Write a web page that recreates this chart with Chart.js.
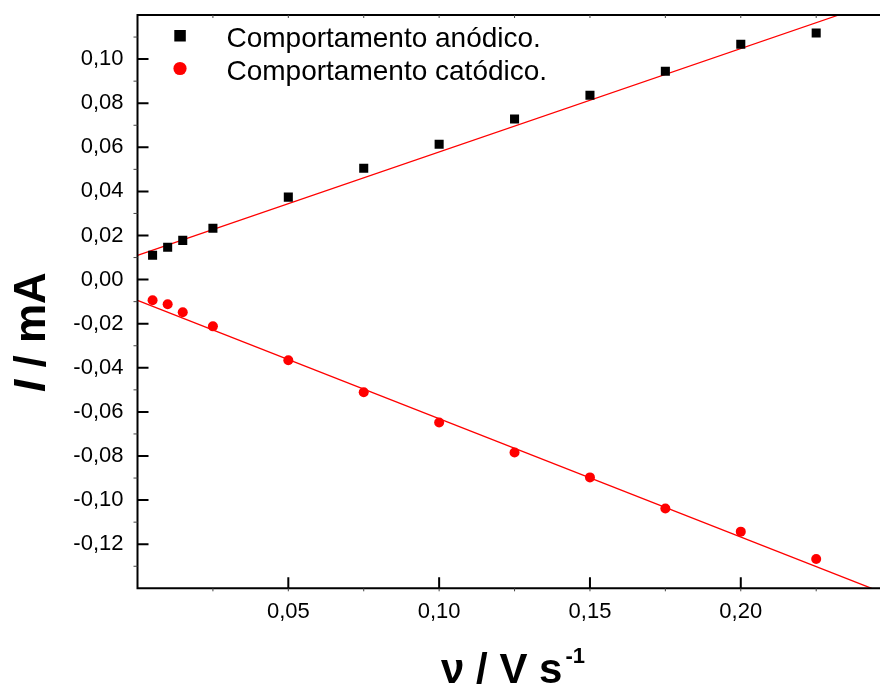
<!DOCTYPE html>
<html>
<head>
<meta charset="utf-8">
<script src="https://cdn.jsdelivr.net/npm/chart.js@4/dist/chart.umd.min.js"></script>
<style>
  html, body { margin: 0; padding: 0; overflow: hidden; background: #fff; }
</style>
</head>
<body>
<canvas id="chart" width="898" height="691"></canvas>
<script>
// scan rate (V/s) and peak currents (mA)
const scanRates = [0.005, 0.01, 0.015, 0.025, 0.05, 0.075, 0.1, 0.125, 0.15, 0.175, 0.2, 0.225];
const anodicCurrent = [0.011, 0.0147, 0.0178, 0.0233, 0.0374, 0.0505, 0.0614, 0.0728, 0.0836, 0.0945, 0.1067, 0.1118];
const cathodicCurrent = [-0.0094, -0.0112, -0.0148, -0.0212, -0.0366, -0.0511, -0.0648, -0.0784, -0.0897, -0.1038, -0.1143, -0.1267];

// fitted lines, end points
const anodicFitX = [0, 0.2325];
const anodicFitY = [0.011, 0.12];
const cathodicFitX = [0, 0.2434];
const cathodicFitY = [-0.0094, -0.14];

const xTickValues = [0.05, 0.10, 0.15, 0.20];
const xMinorValues = [0.025, 0.075, 0.125, 0.175, 0.225];
const yTickValues = [-0.12, -0.10, -0.08, -0.06, -0.04, -0.02, 0, 0.02, 0.04, 0.06, 0.08, 0.10];
const yMinorValues = [-0.13, -0.11, -0.09, -0.07, -0.05, -0.03, -0.01, 0.01, 0.03, 0.05, 0.07, 0.09, 0.11];

const FONT = "'Liberation Sans', Arial, sans-serif";
const fmt = v => v.toFixed(2).replace('.', ',');
const pairs = (xs, ys) => xs.map((x, i) => ({ x: x, y: ys[i] }));

const frame = {
    id: 'frame',
    afterDraw(chart) {
        const ctx = chart.ctx;
        const a = chart.chartArea;
        const xs = chart.scales.x, ys = chart.scales.y;
        ctx.save();
        ctx.strokeStyle = '#000';
        ctx.lineWidth = 2;
        ctx.beginPath();
        ctx.moveTo(a.left, a.top); ctx.lineTo(a.left, a.bottom);
        ctx.moveTo(a.left - 1, a.bottom); ctx.lineTo(a.right, a.bottom);
        ctx.moveTo(a.left - 1, a.top); ctx.lineTo(a.right, a.top);
        // major ticks, pointing inward
        yTickValues.forEach(v => {
            const y = ys.getPixelForValue(v);
            ctx.moveTo(a.left, y); ctx.lineTo(a.left + 11, y);
        });
        xTickValues.forEach(v => {
            const x = xs.getPixelForValue(v);
            ctx.moveTo(x, a.bottom); ctx.lineTo(x, a.bottom - 11);
        });
        ctx.stroke();

        // minor ticks, small and outside
        ctx.lineWidth = 1;
        ctx.strokeStyle = '#444';
        ctx.beginPath();
        yMinorValues.forEach(v => {
            const y = ys.getPixelForValue(v);
            ctx.moveTo(a.left - 4, y); ctx.lineTo(a.left, y);
        });
        xMinorValues.concat(xTickValues).forEach(v => {
            const x = xs.getPixelForValue(v);
            ctx.moveTo(x, a.bottom); ctx.lineTo(x, a.bottom + 3);
            ctx.moveTo(x, a.top); ctx.lineTo(x, a.top + 3);
        });
        ctx.stroke();

        // legend
        const ds = chart.data.datasets;
        ctx.fillStyle = ds[0].backgroundColor;
        ctx.fillRect(174.3, 30, 11.5, 11.5);
        ctx.fillStyle = ds[1].backgroundColor;
        ctx.beginPath();
        ctx.arc(180, 68.5, 6.6, 0, Math.PI * 2);
        ctx.fill();
        ctx.fillStyle = '#000';
        ctx.font = '28px ' + FONT;
        ctx.textBaseline = 'alphabetic';
        ctx.textAlign = 'left';
        ctx.fillText(ds[0].label, 226.5, 46.7);
        ctx.fillText(ds[1].label, 226.5, 80);

        // y title: I / mA
        ctx.save();
        ctx.translate(45, 332);
        ctx.rotate(-Math.PI / 2);
        const fI = 'italic bold 44px ' + FONT, fR = 'bold 44px ' + FONT;
        ctx.font = fI; const wI = ctx.measureText('I').width;
        ctx.font = fR; const wR = ctx.measureText(' / mA').width;
        let x0 = -(wI + wR) / 2;
        ctx.font = fI; ctx.fillText('I', x0, 0);
        ctx.font = fR; ctx.fillText(' / mA', x0 + wI, 0);
        ctx.restore();

        // x title: ν / V s^-1
        const fM = 'bold 42px ' + FONT, fS = 'bold 22px ' + FONT;
        ctx.font = fM; const wM = ctx.measureText('\u03bd / V s').width;
        ctx.font = fS; const wS = ctx.measureText('-1').width;
        const xs0 = 513 - (wM + wS + 3) / 2;
        ctx.font = fM; ctx.fillText('\u03bd / V s', xs0, 683);
        ctx.font = fS; ctx.fillText('-1', xs0 + wM + 3, 663);
        ctx.restore();
    }
};

new Chart(document.getElementById('chart').getContext('2d'), {
    type: 'scatter',
    data: {
        datasets: [
            {
                label: 'Comportamento anódico.',
                data: pairs(scanRates, anodicCurrent),
                pointStyle: 'rect',
                pointRadius: 6.4,
                backgroundColor: '#000000',
                borderWidth: 0
            },
            {
                label: 'Comportamento catódico.',
                data: pairs(scanRates, cathodicCurrent),
                pointStyle: 'circle',
                pointRadius: 5,
                backgroundColor: '#ff0000',
                borderWidth: 0
            },
            {
                label: 'fit anodic',
                data: pairs(anodicFitX, anodicFitY),
                showLine: true,
                borderColor: '#ff0000',
                borderWidth: 1.3,
                pointRadius: 0
            },
            {
                label: 'fit cathodic',
                data: pairs(cathodicFitX, cathodicFitY),
                showLine: true,
                borderColor: '#ff0000',
                borderWidth: 1.3,
                pointRadius: 0
            }
        ]
    },
    options: {
        responsive: false,
        animation: false,
        layout: { padding: { top: 15, right: 0, left: 0, bottom: 0 } },
        plugins: {
            legend: { display: false },
            tooltip: { enabled: false }
        },
        scales: {
            x: {
                type: 'linear',
                min: 0,
                max: 0.25,
                afterFit(s) {
                    s.height = 102.7;
                    s.paddingLeft = 0; s.paddingRight = 0;
                },
                afterBuildTicks(s) { s.ticks = xTickValues.map(v => ({ value: v })); },
                grid: { display: false, drawTicks: false },
                border: { display: false },
                ticks: {
                    autoSkip: false,
                    maxRotation: 0,
                    padding: 10,
                    color: '#000',
                    font: { family: FONT, size: 22 },
                    callback: v => fmt(v)
                }
            },
            y: {
                type: 'linear',
                min: -0.14,
                max: 0.12,
                afterFit(s) {
                    s.width = 137.5;
                    s.paddingTop = 0; s.paddingBottom = 0;
                },
                afterBuildTicks(s) { s.ticks = yTickValues.map(v => ({ value: v })); },
                grid: { display: false, drawTicks: false },
                border: { display: false },
                ticks: {
                    autoSkip: false,
                    padding: 14,
                    color: '#000',
                    font: { family: FONT, size: 22 },
                    callback: v => fmt(v)
                }
            }
        }
    },
    plugins: [frame]
});
</script>
</body>
</html>
